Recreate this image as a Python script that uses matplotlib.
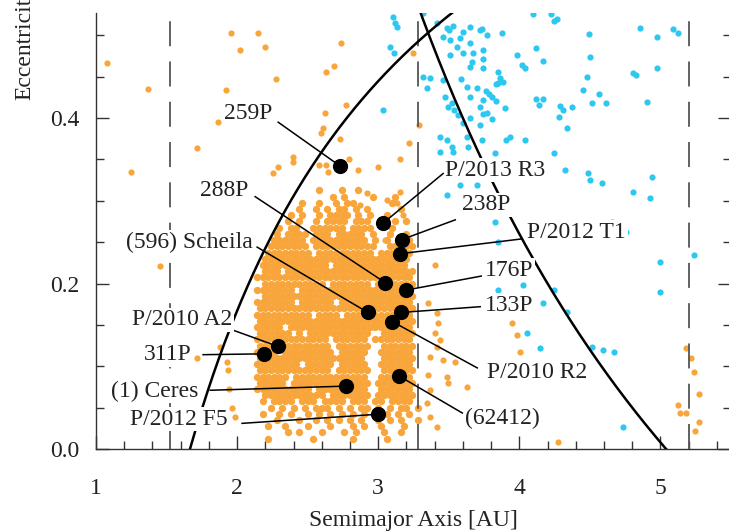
import numpy as np
import matplotlib.pyplot as plt
from matplotlib.ticker import MultipleLocator, FormatStrFormatter

plt.rcParams['font.family'] = ['Liberation Serif', 'DejaVu Serif']
plt.rcParams['font.size'] = 17
plt.rcParams['lines.scale_dashes'] = False

ORANGE = '#f8a63c'
CYAN = '#2cc8f0'

# perihelion of a Mars crosser, aphelion at Jupiter's orbit
Q_MARS = 1.666
Q_JUPITER = 5.04
# Mars, 2:1 resonance with Jupiter, Jupiter
A_MARS, A_RES21, A_JUPITER = 1.524, 3.28, 5.2

# dense part of the main belt, one cell per character, rows from high to low e
belt_a0, belt_da = 2.14, 0.04
belt_e0, belt_de = 0.3125, 0.0075
belt_map = [
    "...........#...#..#..........",
    ".............#.#....#...#....",
    "........#..#..#.##......#....",
    ".......#..#.#.##.#.#.....#...",
    "......#.#..#.####.#.#..#.....",
    ".....#.#..#.####.###....#.#..",
    "....#.##..######.####...#....",
    "...#.####.###.#####.#..#..#..",
    "...######.##########.#.#.#.#.",
    "..#######.###########..##.##.",
    "..########.##########.######.",
    ".##########################..",
    ".############.#############.",
    ".###.#######################.",
    "############################.",
    ".###########.#######.#######.",
    "#######.####################.",
    ".###########################.",
    "#######.######.#############.",
    "############################.",
    "##########.####.####.#######.",
    "############################.",
    "#####.######################.",
    "######.#.###########..######.",
    "#############.######.#######.",
    "#############.######..######.",
    "####.#########.#####..######.",
    "###################...######.",
    "########.#####.#####..######.",
    "#############.######..######.",
    "######.#############..######.",
    "#####.##############.#######.",
    "##########.#########..######.",
    ".###########.#######.#######.",
    ".#.####.###.####.###.##.####.",
    "..#.#.#.#.###.#.#.##.#.#.##.#",
    ".#..#.#..#.#.#.#.#.#.#.#.#.#.",
    "...#...#..#.#.#.#.#..#.#.#..#",
    "..#..#...#...#...#.#..#...#..",
    ".....#.#...#...#.#....#..#...",
    "..#.......#......#.....#.....",
]

# asteroids outside the dense belt
stray_a = [1.078, 1.369, 1.922, 1.865, 1.716, 1.248, 1.454, 1.957, 2.021, 2.149,
           2.199, 2.738, 2.631, 2.688, 2.277, 2.773, 2.624, 2.610, 2.596, 2.730,
           2.397, 2.397, 2.291, 2.255, 2.582, 2.631, 2.645, 3.000, 3.156, 3.220,
           3.291, 3.248, 2.794, 2.858, 3.135, 3.156, 3.177, 3.050, 3.064, 2.922,
           2.872, 3.404, 1.716, 1.879, 1.929, 1.936, 1.943, 1.965, 1.986, 3.355,
           3.418, 3.426, 3.404, 3.440, 3.418, 3.369, 3.461, 3.546, 3.631, 3.489,
           3.496, 3.355, 3.369, 3.348, 3.369, 3.418, 3.950, 4.007, 5.270, 5.121,
           5.142, 5.184, 5.270, 5.248, 4.277, 5.184, 5.213, 5.241, 3.986]
stray_e = [0.466, 0.435, 0.434, 0.395, 0.364, 0.335, 0.221, 0.503, 0.482, 0.503,
           0.486, 0.491, 0.456, 0.463, 0.447, 0.416, 0.406, 0.388, 0.382, 0.375,
           0.353, 0.347, 0.341, 0.334, 0.343, 0.343, 0.335, 0.341, 0.350, 0.370,
           0.392, 0.479, 0.350, 0.337, 0.297, 0.311, 0.283, 0.253, 0.301, 0.309,
           0.295, 0.222, 0.110, 0.123, 0.105, 0.095, 0.073, 0.050, 0.039, 0.176,
           0.164, 0.152, 0.140, 0.132, 0.123, 0.111, 0.108, 0.105, 0.075, 0.087,
           0.080, 0.089, 0.071, 0.056, 0.039, 0.027, 0.152, 0.117, 0.066, 0.053,
           0.044, 0.044, 0.033, 0.022, 0.008, 0.122, 0.110, 0.093, 0.138]

# comets
comet_a = [4.099, 4.227, 4.248, 4.270, 3.738, 3.773, 3.879, 4.496, 4.858, 4.979,
           5.092, 5.121, 3.986, 4.121, 4.170, 4.504, 3.745, 3.745, 4.021, 4.043,
           4.809, 4.830, 4.979, 4.482, 3.865, 3.887, 3.837, 3.766, 3.787, 3.809,
           3.837, 4.454, 4.567, 4.121, 4.170, 4.142, 4.518, 4.617, 4.291, 4.312,
           4.376, 4.284, 3.901, 3.745, 3.809, 4.340, 4.908, 3.908, 3.936, 4.043,
           4.248, 3.830, 4.489, 4.943,
           3.106, 3.121, 3.135, 3.085, 3.113, 3.035, 3.319, 3.369, 3.348, 3.418,
           3.489, 3.504, 3.532, 3.461, 3.511, 3.603, 3.652, 3.723, 3.582, 3.560,
           3.652, 3.603, 3.511, 3.674, 3.667, 3.652, 3.745, 3.461, 3.589, 3.631,
           3.702, 3.475, 3.652, 3.745, 3.525, 3.539, 3.496, 3.567, 3.723, 3.773,
           3.603, 3.652, 3.723, 3.440, 3.489, 3.525, 3.638, 3.631, 3.738, 3.851,
           3.851, 3.319,
           3.440, 3.532, 3.582, 3.702, 3.489, 3.794, 3.830, 3.851,
           3.851, 4.028, 4.248, 4.340, 4.057, 4.149, 4.170, 4.738,
           4.518, 4.596, 4.674, 5.000,
           4.326, 4.504, 4.589, 4.809, 4.929, 4.660, 4.759, 5.000, 5.241]
comet_e = [0.526, 0.526, 0.517, 0.520, 0.508, 0.500, 0.503, 0.502, 0.509, 0.498,
           0.508, 0.503, 0.476, 0.485, 0.469, 0.474, 0.471, 0.460, 0.464, 0.460,
           0.454, 0.452, 0.460, 0.450, 0.448, 0.444, 0.441, 0.433, 0.429, 0.425,
           0.421, 0.434, 0.429, 0.423, 0.423, 0.416, 0.418, 0.418, 0.414, 0.410,
           0.413, 0.401, 0.412, 0.405, 0.399, 0.388, 0.419, 0.373, 0.377, 0.373,
           0.358, 0.358, 0.334, 0.329,
           0.522, 0.515, 0.510, 0.486, 0.479, 0.410, 0.450, 0.448, 0.436, 0.515,
           0.509, 0.506, 0.511, 0.498, 0.494, 0.504, 0.510, 0.506, 0.497, 0.486,
           0.491, 0.479, 0.476, 0.479, 0.468, 0.462, 0.482, 0.446, 0.447, 0.437,
           0.436, 0.425, 0.425, 0.422, 0.418, 0.410, 0.413, 0.404, 0.413, 0.406,
           0.394, 0.400, 0.392, 0.377, 0.373, 0.365, 0.365, 0.377, 0.373, 0.456,
           0.442, 0.527,
           0.359, 0.359, 0.319, 0.319, 0.307, 0.295, 0.274, 0.250,
           0.192, 0.198, 0.192, 0.166, 0.140, 0.122, 0.176, 0.027,
           0.123, 0.120, 0.117, 0.190,
           0.337, 0.325, 0.321, 0.311, 0.303, 0.274, 0.262, 0.226, 0.234]

# main-belt comets and active asteroids
mbc_names = ['259P', 'P/2013 R3', '238P', 'P/2012 T1', '288P', '(596) Scheila',
             '176P', '133P', 'P/2010 R2', '(62412)', 'P/2010 A2', '311P',
             '(1) Ceres', 'P/2012 F5']
mbc_a = [2.73, 3.035, 3.165, 3.154, 3.05, 2.927, 3.196, 3.16, 3.10, 3.15,
         2.29, 2.19, 2.77, 3.00]
mbc_e = [0.342, 0.273, 0.253, 0.236, 0.201, 0.165, 0.192, 0.165, 0.154, 0.088,
         0.124, 0.115, 0.076, 0.042]
label_a = [2.248, 3.475, 3.596, 4.057, 2.078, 2.113, 3.759, 3.759, 3.773, 3.617,
           1.965, 1.681, 1.723, 1.936]
label_e = [0.406, 0.337, 0.295, 0.262, 0.313, 0.250, 0.216, 0.174, 0.093, 0.037,
           0.156, 0.114, 0.070, 0.036]
label_ha = ['right', 'left', 'left', 'left', 'right', 'right', 'left', 'left',
            'left', 'left', 'right', 'right', 'right', 'right']
leader_a = [2.291, 3.46, 3.546, 4.02, 2.128, 2.142, 3.73, 3.723, 3.702, 3.596,
            1.965, 1.759, 1.809, 2.035]
leader_e = [0.395, 0.333, 0.277, 0.254, 0.305, 0.244, 0.209, 0.172, 0.098, 0.0435,
            0.144, 0.114, 0.071, 0.031]


def belt_points(rows):
    pts_a, pts_e = [], []
    for r, row in enumerate(rows):
        shift = belt_da / 2 if r % 2 else 0.0
        for c, ch in enumerate(row):
            if ch == '#':
                pts_a.append(belt_a0 + belt_da * c + shift)
                pts_e.append(belt_e0 - belt_de * r)
    return pts_a, pts_e


fig = plt.figure(figsize=(7.29, 5.31), dpi=100)
ax = fig.add_axes([96 / 729, 82 / 531, 635 / 729, 436 / 531])

dense_a, dense_e = belt_points(belt_map)
ax.scatter(dense_a, dense_e, s=28, color=ORANGE, linewidths=0, zorder=2)
ax.scatter(stray_a, stray_e, s=20, color=ORANGE, linewidths=0, zorder=2)
ax.scatter(comet_a, comet_e, s=20, color=CYAN, linewidths=0, zorder=2)

for x in (A_MARS, A_RES21, A_JUPITER):
    ax.axvline(x, color='#555555', lw=1.3, dashes=(18, 11), zorder=3)

a_in = np.linspace(Q_MARS, 3.7, 300)
ax.plot(a_in, 1 - Q_MARS / a_in, color='black', lw=1.8, zorder=3)
a_out = np.linspace(3.2, Q_JUPITER, 300)
ax.plot(a_out, Q_JUPITER / a_out - 1, color='black', lw=1.8, zorder=3)

for i, name in enumerate(mbc_names):
    ax.plot([leader_a[i], mbc_a[i]], [leader_e[i], mbc_e[i]], color='black',
            lw=1.1, zorder=4)
    ax.text(label_a[i], label_e[i], name, ha=label_ha[i], va='center',
            color='#222222', zorder=6,
            bbox=dict(facecolor='white', edgecolor='none', pad=1))
ax.scatter(mbc_a, mbc_e, s=120, color='black', linewidths=0, zorder=5)

ax.set_xlim(1, 5.5)
ax.set_ylim(0, 0.527)
ax.xaxis.set_major_locator(MultipleLocator(1))
ax.xaxis.set_minor_locator(MultipleLocator(0.2))
ax.yaxis.set_major_locator(MultipleLocator(0.2))
ax.yaxis.set_minor_locator(MultipleLocator(0.05))
ax.yaxis.set_major_formatter(FormatStrFormatter('%.1f'))

ax.spines['top'].set_visible(False)
for side in ('left', 'bottom', 'right'):
    ax.spines[side].set_color('#333333')
    ax.spines[side].set_linewidth(1.0)
ax.tick_params(which='both', direction='in', right=True, top=False,
               color='#333333', width=1.0, labelcolor='#222222')
ax.tick_params(which='major', length=9.5)
ax.tick_params(which='minor', length=5.5)
ax.tick_params(axis='y', pad=12)
ax.tick_params(axis='x', pad=21)

ax.set_xlabel('Semimajor Axis [AU]', color='#222222', labelpad=8)
fig.text(25 / 729, 431 / 531, 'Eccentricity', rotation=90, ha='center',
         va='bottom', color='#222222')

fig.savefig('out.png', dpi=100)
